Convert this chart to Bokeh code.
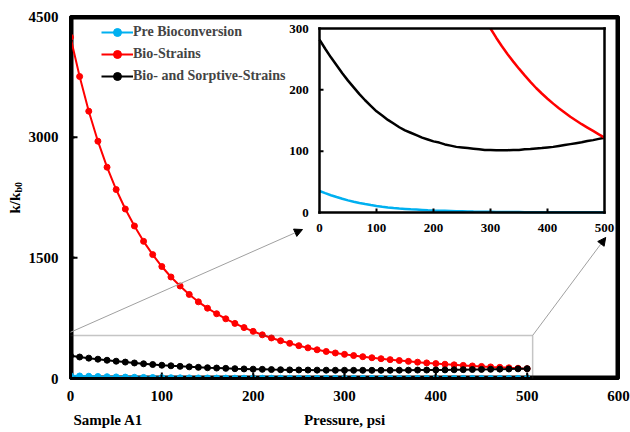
import math
from bokeh.plotting import figure
from bokeh.layouts import row, column
from bokeh.models import (Range1d, Legend, LegendItem, BoxAnnotation,
                          Arrow, NormalHead, FixedTicker)
from bokeh.core.properties import value
from bokeh.embed import file_html
from bokeh.resources import INLINE

# ---------------- data ----------------
pressure = list(range(0, 510, 10))

pre_bio = [35, 31.5, 28.2, 25.2, 22.4, 19.8, 17.5, 15.5, 13.7, 12.1,
           10.7, 9.4, 8.3, 7.4, 6.6, 5.9, 5.2, 4.7, 4.2, 3.7,
           3.3, 3.0, 2.7, 2.4, 2.1, 1.9, 1.7, 1.5, 1.4, 1.2,
           1.1, 1.0, 0.9, 0.8, 0.75, 0.7, 0.6, 0.55, 0.5, 0.45,
           0.4, 0.38, 0.35, 0.32, 0.3, 0.28, 0.26, 0.24, 0.22, 0.21, 0.2]

bio_strains = [4242, 3754, 3323, 2950, 2627, 2349, 2107, 1896, 1705, 1540,
               1392, 1262, 1150, 1045, 953, 874, 805, 742, 685, 633,
               586, 543, 504, 469, 437, 408, 381, 357, 336, 317,
               300, 285, 271, 258, 246, 234.5, 223.5, 213, 203, 194,
               185.5, 177.5, 170, 163, 156, 150, 144, 138.5, 133, 127.5, 122]

bio_sorptive = [282, 267, 253, 240, 227, 215, 204, 193, 183, 174,
                165, 158, 151, 145, 139, 134, 130, 126, 122, 119,
                116, 114, 111, 109, 107, 106, 105, 104, 103, 102,
                102, 101.5, 101.5, 101.5, 102, 102, 103, 103.5, 104.5, 105,
                106, 107, 108.5, 110, 111.5, 113, 114.5, 116.5, 118, 120, 122]

series_names = ["Pre Bioconversion", "Bio-Strains", "Bio- and Sorptive-Strains"]
x_ticks = [0, 100, 200, 300, 400, 500, 600]
y_ticks = [0, 1500, 3000, 4500]
inset_x_ticks = [0, 100, 200, 300, 400, 500]
inset_y_ticks = [0, 100, 200, 300]
inset_x_max = 500
inset_y_max = 300

BLUE = "#00B0F0"
RED = "#FF0000"
BLACK = "#000000"
FONT = "Liberation Serif"

FRAME_W, FRAME_H = 548, 362          # frame size in pixels
xr = Range1d(0, 600)
yr = Range1d(0, 4500)
ixr = Range1d(-436.84, 524.56)
iyr = Range1d(-270.65, 319.57)

# pixel -> data unit factors
kx = (xr.end - xr.start) / FRAME_W
ky = (yr.end - yr.start) / FRAME_H
ikx = (ixr.end - ixr.start) / FRAME_W
iky = (iyr.end - iyr.start) / FRAME_H

# ---------------- main figure ----------------
p = figure(width=606, height=406, output_backend="svg", toolbar_location=None,
           x_range=xr, y_range=yr,
           min_border_left=46, min_border_right=12, min_border_top=16,
           min_border_bottom=28)
p.background_fill_color = "white"
p.border_fill_color = "white"
p.xgrid.visible = False
p.ygrid.visible = False
p.outline_line_color = "black"
p.outline_line_width = 3

p.extra_x_ranges = {"ix": ixr}
p.extra_y_ranges = {"iy": iyr}

for ax, ticks in ((p.xaxis, x_ticks), (p.yaxis, y_ticks)):
    ax.ticker = FixedTicker(ticks=ticks)
    ax.minor_tick_line_color = None
    ax.axis_line_color = "black"
    ax.major_tick_line_color = "black"
    ax.major_tick_in = 4
    ax.major_tick_out = 0
    ax.major_tick_line_width = 2
    ax.axis_line_width = 3
    ax.major_label_text_font = FONT
    ax.major_label_text_font_style = "bold"
    ax.major_label_text_font_size = "15px"
    ax.major_label_text_color = "black"
    ax.major_label_standoff = 12
p.xaxis.axis_label = None
p.yaxis.axis_label = None

# frame border as filled bands (3 px) inside the frame
t = 3
xa, xb = xr.start, xr.end
ya, yb = yr.start, yr.end
p.quad(left=[xa, xb - t * kx, xa, xa], right=[xa + t * kx, xb, xb, xb],
       bottom=[ya, ya, ya, yb - t * ky], top=[yb, yb, ya + t * ky, yb],
       fill_color="black", line_color=None)

# main tick marks (inward)
xt = x_ticks[1:-1]
p.quad(left=[v - 1 * kx for v in xt], right=[v + 1 * kx for v in xt],
       bottom=[ya] * len(xt), top=[ya + 6 * ky] * len(xt),
       fill_color="black", line_color=None)
yt = y_ticks[1:-1]
p.quad(left=[xa] * len(yt), right=[xa + 7 * kx] * len(yt),
       bottom=[v - 1 * ky for v in yt], top=[v + 1 * ky for v in yt],
       fill_color="black", line_color=None)

# ---------------- main series ----------------
items = []
for vals, col, name in ((pre_bio, BLUE, series_names[0]),
                        (bio_strains, RED, series_names[1]),
                        (bio_sorptive, BLACK, series_names[2])):
    rl = p.line(pressure, vals, line_color=col, line_width=2)
    rs = p.scatter(pressure, vals, size=6, fill_color=col, line_color=col)
    items.append(LegendItem(label=name, renderers=[rl, rs]))

# zoom rectangle and connectors
p.add_layout(BoxAnnotation(left=-8, right=506, bottom=-50, top=535,
                           fill_color=None, fill_alpha=0,
                           line_color="#404040", line_width=1.5))
p.add_layout(Arrow(end=NormalHead(size=8, fill_color="black", line_color="black"),
                   x_start=-8, y_start=535, x_end=254, y_end=1852,
                   line_color="#A0A0A0", line_width=1))
p.add_layout(Arrow(end=NormalHead(size=8, fill_color="black", line_color="black"),
                   x_start=506, y_start=535, x_end=586, y_end=1753,
                   line_color="#A0A0A0", line_width=1))

# ---------------- inset ----------------
p.line(pressure, pre_bio, line_color=BLUE, line_width=2.5,
       x_range_name="ix", y_range_name="iy")
p.line(pressure, bio_sorptive, line_color=BLACK, line_width=2.5,
       x_range_name="ix", y_range_name="iy")
p.line(pressure[30:], bio_strains[30:], line_color=RED, line_width=2.5,
       x_range_name="ix", y_range_name="iy")

# inset border (2.5 px bands centred on the edges)
h = 1.25
p.quad(left=[-h * ikx, inset_x_max - h * ikx, -h * ikx, -h * ikx],
       right=[h * ikx, inset_x_max + h * ikx, inset_x_max + h * ikx, inset_x_max + h * ikx],
       bottom=[-h * iky, -h * iky, -h * iky, inset_y_max - h * iky],
       top=[inset_y_max + h * iky, inset_y_max + h * iky, h * iky, inset_y_max + h * iky],
       fill_color="black", line_color=None, x_range_name="ix", y_range_name="iy")

# inset ticks (inward)
bx = inset_x_ticks[1:-1]
p.quad(left=[v - 1 * ikx for v in bx], right=[v + 1 * ikx for v in bx],
       bottom=[0] * len(bx), top=[4 * iky] * len(bx),
       fill_color="black", line_color=None, x_range_name="ix", y_range_name="iy")
ly = inset_y_ticks[1:-1]
p.quad(left=[0] * len(ly), right=[4 * ikx] * len(ly),
       bottom=[v - 1 * iky for v in ly], top=[v + 1 * iky for v in ly],
       fill_color="black", line_color=None, x_range_name="ix", y_range_name="iy")

p.text(x=inset_x_ticks, y=[-26] * len(inset_x_ticks),
       text=[str(v) for v in inset_x_ticks],
       text_font=value(FONT), text_font_style="bold", text_font_size="13px",
       text_align="center", text_baseline="middle", text_color="black",
       x_range_name="ix", y_range_name="iy")
p.text(x=[-19] * len(inset_y_ticks), y=inset_y_ticks,
       text=[str(v) for v in inset_y_ticks],
       text_font=value(FONT), text_font_style="bold", text_font_size="13px",
       text_align="right", text_baseline="middle", text_color="black",
       x_range_name="ix", y_range_name="iy")

legend = Legend(items=items, location=(31, 292), padding=0, spacing=2, margin=0,
                glyph_width=32, glyph_height=20, label_height=20, label_standoff=0,
                border_line_color=None, background_fill_alpha=0,
                label_text_font=FONT, label_text_font_style="bold",
                label_text_font_size="14px")
p.add_layout(legend)

# ---------------- left strip: y title ----------------
left = figure(width=24, height=406, output_backend="svg", toolbar_location=None,
              x_range=Range1d(0, 24), y_range=yr,
              min_border_left=0, min_border_right=0, min_border_top=16,
              min_border_bottom=28, x_axis_location=None, y_axis_location=None)
left.grid.visible = False
left.outline_line_color = None
left.background_fill_color = "white"
left.border_fill_color = "white"
left.text(x=[14], y=[2051], text=["k/k"], angle=math.pi / 2,
          text_font=value(FONT), text_font_style="bold", text_font_size="15px",
          text_align="left", text_baseline="middle", text_color="black")
left.text(x=[17.5], y=[2312], text=["b0"], angle=math.pi / 2,
          text_font=value(FONT), text_font_style="bold", text_font_size="10px",
          text_align="left", text_baseline="middle", text_color="black")

# ---------------- bottom strip: axis titles ----------------
bottom = figure(width=630, height=26, output_backend="svg", toolbar_location=None,
                x_range=xr, y_range=Range1d(0, 26),
                min_border_left=70, min_border_right=12, min_border_top=0,
                min_border_bottom=0, x_axis_location=None, y_axis_location=None)
bottom.grid.visible = False
bottom.outline_line_color = None
bottom.background_fill_color = "white"
bottom.border_fill_color = "white"
bottom.text(x=[3.3], y=[13], text=["Sample A1"],
            text_font=value(FONT), text_font_style="bold", text_font_size="15px",
            text_align="left", text_baseline="middle", text_color="black")
bottom.text(x=[xr.end / 2], y=[13], text=["Pressure, psi"],
            text_font=value(FONT), text_font_style="bold", text_font_size="15px",
            text_align="center", text_baseline="middle", text_color="black")

layout = column(row(left, p, spacing=0), bottom, spacing=0)

open("out.html", "w").write(file_html(layout, INLINE))
